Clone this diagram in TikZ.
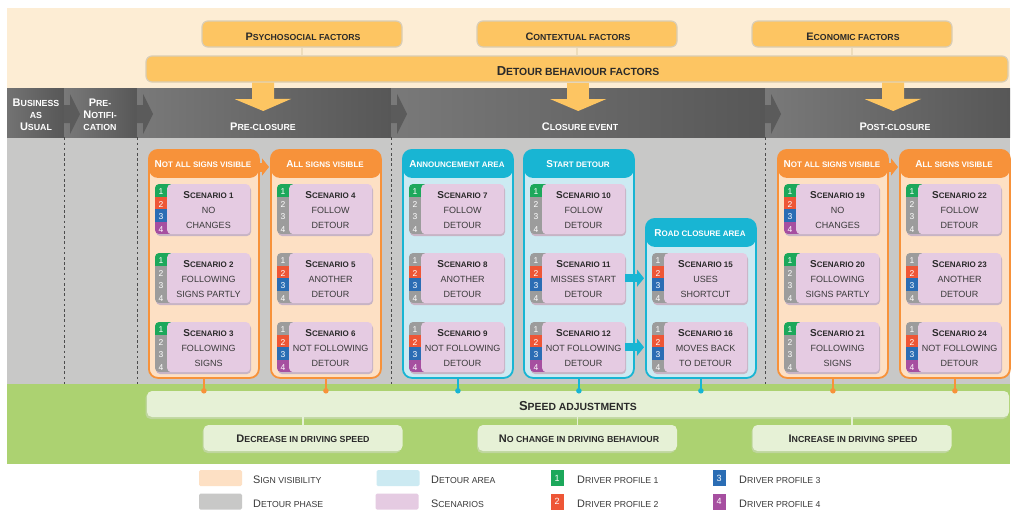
\documentclass[tikz,border=0pt]{standalone}
\usepackage{fontspec}
\setmainfont{Liberation Sans}
\usepackage{graphicx}
\usetikzlibrary{arrows.meta}

% first letter of a small-caps word
\newcommand\Up[1]{\scalebox{1.25}{#1}}
\newcommand\fs[1]{\fontsize{#1}{#1}\selectfont}

\definecolor{beige}{HTML}{FDEDD4}
\definecolor{factor}{HTML}{FDC562}
\definecolor{factorline}{HTML}{D9CDB5}
\definecolor{factorlink}{HTML}{EEDDBB}
\definecolor{bggray}{HTML}{C8C8C7}
\definecolor{phlight}{HTML}{797979}
\definecolor{phdark}{HTML}{575757}
\definecolor{chev}{HTML}{5B5B5B}
\definecolor{grass}{HTML}{ACD271}
\definecolor{mint}{HTML}{E6F1D6}
\definecolor{mintshadow}{HTML}{BFD69E}
\definecolor{orng}{HTML}{F7923A}
\definecolor{peach}{HTML}{FDE0C4}
\definecolor{cyn}{HTML}{18B5D3}
\definecolor{icy}{HTML}{CCEAF2}
\definecolor{lilac}{HTML}{E5CBE2}
\definecolor{lilacshadow}{HTML}{C7B4C5}
\definecolor{pgray}{HTML}{9C9C9C}
\definecolor{pgreen}{HTML}{1CA85B}
\definecolor{pred}{HTML}{EE5636}
\definecolor{pblue}{HTML}{2B6DB4}
\definecolor{ppurple}{HTML}{A64FA0}
\definecolor{ink}{HTML}{2A2A2A}
\definecolor{bodyink}{HTML}{3A3A3A}

\tikzset{
  lbl/.style={inner sep=0pt, outer sep=0pt, anchor=base},
  phasetxt/.style={lbl, text=white, font=\fs{8.8}\bfseries},
  factortxt/.style={lbl, text=ink, font=\fs{8.7}\bfseries},
  bigtxt/.style={lbl, text=ink, font=\fs{10.4}\bfseries},
  subtxt/.style={lbl, text=ink, font=\fs{8.8}\bfseries},
  grptxt/.style={lbl, text=white, font=\fs{8}\bfseries},
  scentitle/.style={lbl, text=ink, font=\fs{8}\bfseries},
  scenline/.style={lbl, text=bodyink, font=\fs{9}},
  numtxt/.style={lbl, text=white, font=\fs{8.5}},
  legtxt/.style={inner sep=0pt, anchor=base west, text=bodyink, font=\fs{8.7}},
  factorbox/.style={fill=factor, draw=factorline, line width=1.2pt, rounded corners=6pt,
    minimum height=26pt, inner sep=0pt},
  phase/.style={anchor=north west, minimum height=49pt, inner sep=0pt,
    left color=phlight, right color=phdark},
  grp/.style={anchor=north west, minimum width=110pt, minimum height=#1,
    rounded corners=9pt, line width=1.8pt, inner sep=0pt},
  grporange/.style={grp=#1, draw=orng, fill=peach, path picture={
    \fill[orng] (path picture bounding box.north west) rectangle
      ([yshift=-28pt]path picture bounding box.north east);}},
  grpcyan/.style={grp=#1, draw=cyn, fill=icy, path picture={
    \fill[cyn] (path picture bounding box.north west) rectangle
      ([yshift=-28pt]path picture bounding box.north east);}},
  scenbox/.style={fill=lilac, rounded corners=4pt, minimum width=83pt,
    minimum height=50pt, inner sep=0pt, anchor=north west},
  greenbox/.style={fill=mint, rounded corners=5pt, minimum height=26pt, inner sep=0pt},
  blockdown/.style={draw=factor, line width=22pt, -{Triangle[width=56pt,length=12pt]}},
  orarrow/.style={draw=orng, line width=9pt, -{Triangle[width=17pt,length=7pt]}},
  cyarrow/.style={draw=cyn, line width=8pt, -{Triangle[width=17pt,length=7pt]}},
  orlink/.style={draw=orng, line width=1.5pt},
  cylink/.style={draw=cyn, line width=1.5pt},
  odot/.style={circle, fill=orng, minimum size=5.5pt, inner sep=0pt},
  cdot/.style={circle, fill=cyn, minimum size=5.5pt, inner sep=0pt},
  dashline/.style={draw=black!70, line width=1.3pt, dash pattern=on 2.6pt off 2.6pt},
  swatch/.style={minimum width=43pt, minimum height=16pt, inner sep=0pt, rounded corners=1.5pt},
  numsq/.style={minimum width=13pt, minimum height=16pt, inner sep=0pt, text=white,
    font=\fs{9}},
}

% one scenario card: number, left x, top y, four profile colours, two text lines
\newcommand\Scen[9]{%
  \fill[lilacshadow, rounded corners=4pt] (#2+1,#3+2) rectangle (#2+96,#3+52);
  \begin{scope}
    \clip[rounded corners=4pt] (#2,#3) rectangle (#2+95,#3+50);
    \fill[#4] (#2,#3) rectangle (#2+16,#3+12.5);
    \fill[#5] (#2,#3+12.5) rectangle (#2+16,#3+25);
    \fill[#6] (#2,#3+25) rectangle (#2+16,#3+37.5);
    \fill[#7] (#2,#3+37.5) rectangle (#2+16,#3+50);
  \end{scope}
  \node[scenbox] (s#1) at (#2+12,#3) {};
  \node[numtxt] (s#1p1) at (#2+6,#3+10.5) {1};
  \node[numtxt] (s#1p2) at (#2+6,#3+23) {2};
  \node[numtxt] (s#1p3) at (#2+6,#3+35.5) {3};
  \node[numtxt] (s#1p4) at (#2+6,#3+48) {4};
  \node[scentitle] (s#1t) at (#2+53.5,#3+14.8) {\Up{S}CENARIO #1};
  \node[scenline] (s#1a) at (#2+53.5,#3+29.8) {#8};
  \node[scenline] (s#1b) at (#2+53.5,#3+44.8) {#9};
}

\begin{document}
\begin{tikzpicture}[x=1pt,y=-1pt]
\useasboundingbox (0,0) rectangle (1011,509);
\fill[white] (0,0) rectangle (1011,509);

% background bands
\fill[beige] (7,8) rectangle (1010,88);
\fill[bggray] (7,137) rectangle (1010,384);
\fill[grass] (7,384) rectangle (1010,464);

% factor boxes and the detour behaviour bar
\node[factorbox, minimum width=862pt] (dbf) at (577,69) {};
\node[factorbox, minimum width=200pt] (fpsy) at (302,34) {};
\node[factorbox, minimum width=200pt] (fctx) at (577,34) {};
\node[factorbox, minimum width=200pt] (feco) at (852,34) {};
\foreach \f in {fpsy,fctx,feco}
  \draw[factorlink, line width=1.5pt] (\f.south) -- (\f.south |- dbf.north);
\node[factortxt] (fpsyl) at (303,40) {\Up{P}SYCHOSOCIAL FACTORS};
\node[factortxt] (fctxl) at (578,40) {\Up{C}ONTEXTUAL FACTORS};
\node[factortxt] (fecol) at (853,40) {\Up{E}CONOMIC FACTORS};
\node[bigtxt] (dbfl) at (578,75) {\Up{D}ETOUR BEHAVIOUR FACTORS};

% detour phases
\node[phase, minimum width=57pt, left color=black!55] (ph0) at (7,88) {};
\node[phase, minimum width=73pt] (ph1) at (64,88) {};
\node[phase, minimum width=254pt] (ph2) at (137,88) {};
\node[phase, minimum width=374pt] (ph3) at (391,88) {};
\node[phase, minimum width=245pt] (ph4) at (765,88) {};
\foreach \b in {64,137,391,765}
  \fill[chev] (\b,105) -- (\b+6,105) -- (\b+6,94) -- (\b+16,114) -- (\b+6,134)
    -- (\b+6,123) -- (\b,123) -- cycle;

\draw[blockdown] (dbf.south -| 263,0) -- ([xshift=-1pt,yshift=-23pt]ph2.north);
\draw[blockdown] (dbf.south -| ph3.north) -- ([yshift=-23pt]ph3.north);
\draw[blockdown] (dbf.south -| 893,0) -- ([xshift=5.5pt,yshift=-23pt]ph4.north);

\node[phasetxt] (bau1) at (36,106) {\Up{B}USINESS};
\node[phasetxt] (bau2) at (36,118) {AS};
\node[phasetxt] (bau3) at (36,130) {\Up{U}SUAL};
\node[phasetxt] (pn1) at (100,106) {\Up{P}RE-};
\node[phasetxt] (pn2) at (100,118) {\Up{N}OTIFI-};
\node[phasetxt] (pn3) at (100,130) {CATION};
\node[phasetxt] (pcl) at (263,130) {\Up{P}RE-CLOSURE};
\node[phasetxt] (cel) at (580,130) {\Up{C}LOSURE EVENT};
\node[phasetxt] (pol) at (895,130) {\Up{P}OST-CLOSURE};

% phase separators
\foreach \p in {ph0,ph1,ph2,ph3}
  \draw[dashline] (\p.south east) -- ++(0,247);

% groups of scenarios
\node[grporange=228pt] (g1) at (148,149) {};
\node[grporange=228pt] (g2) at (270,149) {};
\node[grpcyan=228pt] (g3) at (402,149) {};
\node[grpcyan=228pt] (g4) at (523,149) {};
\node[grpcyan=159pt] (g5) at (645,218) {};
\node[grporange=228pt] (g6) at (777,149) {};
\node[grporange=228pt] (g7) at (899,149) {};

\node[grptxt] (g1l) at (203,167) {\Up{N}OT ALL SIGNS VISIBLE};
\node[grptxt] (g2l) at (325,167) {\Up{A}LL SIGNS VISIBLE};
\node[grptxt] (g3l) at (457,167) {\Up{A}NNOUNCEMENT AREA};
\node[grptxt] (g4l) at (578,167) {\Up{S}TART DETOUR};
\node[grptxt] (g5l) at (700,236) {\Up{R}OAD CLOSURE AREA};
\node[grptxt] (g6l) at (832,167) {\Up{N}OT ALL SIGNS VISIBLE};
\node[grptxt] (g7l) at (954,167) {\Up{A}LL SIGNS VISIBLE};

\draw[orarrow] ([yshift=-18pt]g1.north east) -- ([xshift=-1pt,yshift=-18pt]g2.north west);
\draw[orarrow] ([yshift=-18pt]g6.north east) -- ([xshift=-1pt,yshift=-18pt]g7.north west);

% scenarios
\Scen{1}{155}{184}{pgreen}{pred}{pblue}{ppurple}{NO}{CHANGES}
\Scen{2}{155}{253}{pgreen}{pgray}{pgray}{pgray}{FOLLOWING}{SIGNS PARTLY}
\Scen{3}{155}{322}{pgreen}{pgray}{pgray}{pgray}{FOLLOWING}{SIGNS}
\Scen{4}{277}{184}{pgreen}{pgray}{pgray}{pgray}{FOLLOW}{DETOUR}
\Scen{5}{277}{253}{pgray}{pred}{pblue}{pgray}{ANOTHER}{DETOUR}
\Scen{6}{277}{322}{pgray}{pred}{pblue}{ppurple}{NOT FOLLOWING}{DETOUR}
\Scen{7}{409}{184}{pgreen}{pgray}{pgray}{pgray}{FOLLOW}{DETOUR}
\Scen{8}{409}{253}{pgray}{pred}{pblue}{pgray}{ANOTHER}{DETOUR}
\Scen{9}{409}{322}{pgray}{pred}{pblue}{ppurple}{NOT FOLLOWING}{DETOUR}
\Scen{10}{530}{184}{pgreen}{pgray}{pgray}{pgray}{FOLLOW}{DETOUR}
\Scen{11}{530}{253}{pgray}{pred}{pblue}{pgray}{MISSES START}{DETOUR}
\Scen{12}{530}{322}{pgray}{pred}{pblue}{ppurple}{NOT FOLLOWING}{DETOUR}
\Scen{15}{652}{253}{pgray}{pred}{pblue}{pgray}{USES}{SHORTCUT}
\Scen{16}{652}{322}{pgray}{pred}{pblue}{pgray}{MOVES BACK}{TO DETOUR}
\Scen{19}{784}{184}{pgreen}{pred}{pblue}{ppurple}{NO}{CHANGES}
\Scen{20}{784}{253}{pgreen}{pgray}{pgray}{pgray}{FOLLOWING}{SIGNS PARTLY}
\Scen{21}{784}{322}{pgreen}{pgray}{pgray}{pgray}{FOLLOWING}{SIGNS}
\Scen{22}{906}{184}{pgreen}{pgray}{pgray}{pgray}{FOLLOW}{DETOUR}
\Scen{23}{906}{253}{pgray}{pred}{pblue}{pgray}{ANOTHER}{DETOUR}
\Scen{24}{906}{322}{pgray}{pred}{pblue}{ppurple}{NOT FOLLOWING}{DETOUR}

\draw[cyarrow] (s11.east) -- ([xshift=-1pt]s11.east -| g5.west);
\draw[cyarrow] (s12.east) -- ([xshift=-1pt]s12.east -| g5.west);

% speed adjustments
\fill[mintshadow, rounded corners=5pt] (145.5,393) rectangle (1008,419);
\node[greenbox, minimum width=862pt] (sb) at (578,404) {};
\foreach \x/\n in {303/sdec,577.5/snoc,852/sinc}{
  \fill[mintshadow, rounded corners=5pt] (\x-100.5,427) rectangle (\x+98,453);
  \node[greenbox, minimum width=199pt] (\n) at (\x,438) {};
  \draw[mint, line width=1.3pt] (sb.south -| \n.north) -- (\n.north);
}
\node[bigtxt] (sbl) at (578,410) {\Up{S}PEED ADJUSTMENTS};
\node[subtxt] (sdecl) at (303,442.7) {\Up{D}ECREASE IN DRIVING SPEED};
\node[subtxt] (snocl) at (579,442.7) {\Up{N}O CHANGE IN DRIVING BEHAVIOUR};
\node[subtxt] (sincl) at (853,442.7) {\Up{I}NCREASE IN DRIVING SPEED};

% links from groups to the speed bar
\draw[orlink] (g1.south) -- (g1.south |- sb.north) node[odot] (d1) {};
\draw[orlink] (g2.south) -- (g2.south |- sb.north) node[odot] (d2) {};
\draw[cylink] (g3.south) -- (g3.south |- sb.north) node[cdot] (d3) {};
\draw[cylink] (g4.south) -- (g4.south |- sb.north) node[cdot] (d4) {};
\draw[cylink] (g5.south) -- (g5.south |- sb.north) node[cdot] (d5) {};
\draw[orlink] (g6.south) -- (g6.south |- sb.north) node[odot] (d6) {};
\draw[orlink] (g7.south) -- (g7.south |- sb.north) node[odot] (d7) {};

% legend
\node[swatch, fill=peach] (lsv) at (220.5,478) {};
\node[swatch, fill=bggray] (ldp) at (220.5,501.5) {};
\node[swatch, fill=icy] (lda) at (398,478) {};
\node[swatch, fill=lilac] (lsc) at (397,501.5) {};
\node[legtxt] (lsvt) at (253,483) {\Up{S}IGN VISIBILITY};
\node[legtxt] (ldpt) at (253,507) {\Up{D}ETOUR PHASE};
\node[legtxt] (ldat) at (431,483) {\Up{D}ETOUR AREA};
\node[legtxt] (lsct) at (431,507) {\Up{S}CENARIOS};
\node[numsq, fill=pgreen] (lp1) at (557,478) {1};
\node[numsq, fill=pred] (lp2) at (557,501.5) {2};
\node[numsq, fill=pblue] (lp3) at (719,478) {3};
\node[numsq, fill=ppurple] (lp4) at (719,501.5) {4};
\node[legtxt] (lp1t) at (577,483) {\Up{D}RIVER PROFILE 1};
\node[legtxt] (lp2t) at (577,507) {\Up{D}RIVER PROFILE 2};
\node[legtxt] (lp3t) at (739,483) {\Up{D}RIVER PROFILE 3};
\node[legtxt] (lp4t) at (739,507) {\Up{D}RIVER PROFILE 4};
\end{tikzpicture}
\end{document}
